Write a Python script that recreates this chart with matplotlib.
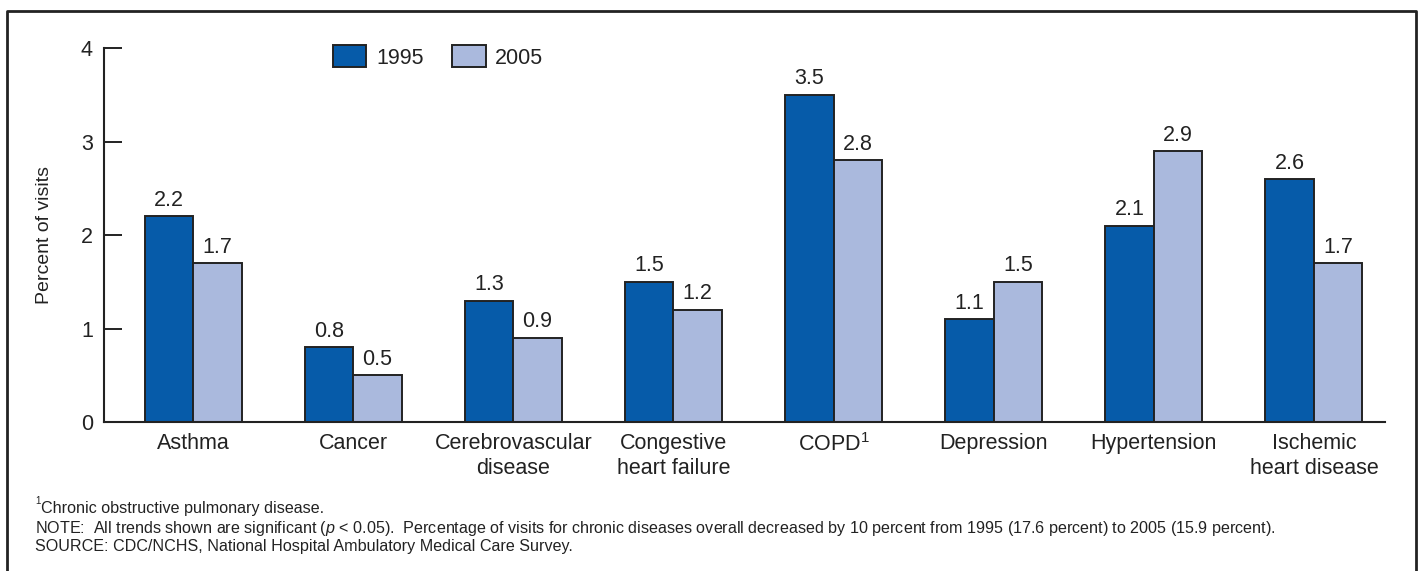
import matplotlib
matplotlib.use("Agg")
import matplotlib.pyplot as plt
from matplotlib.lines import Line2D
import numpy as np

plt.rcParams['font.family'] = ['Liberation Sans', 'DejaVu Sans']
plt.rcParams['mathtext.fontset'] = 'custom'
plt.rcParams['mathtext.rm'] = 'Liberation Sans'
plt.rcParams['mathtext.it'] = 'Liberation Sans:italic'

categories = ["Asthma", "Cancer", "Cerebrovascular\ndisease", "Congestive\nheart failure",
              r"$\mathregular{COPD^1}$", "Depression", "Hypertension", "Ischemic\nheart disease"]
values_1995 = [2.2, 0.8, 1.3, 1.5, 3.5, 1.1, 2.1, 2.6]
values_2005 = [1.7, 0.5, 0.9, 1.2, 2.8, 1.5, 2.9, 1.7]
series_labels = ["1995", "2005"]
yticks = [0, 1, 2, 3, 4]

c1995 = "#065BA9"
c2005 = "#AAB9DD"
edge = "#222222"
txt = "#222222"
fs = 15.5

W, H = 1422, 571
fig = plt.figure(figsize=(W / 100, H / 100), dpi=100)

# outer frame (bottom edge outside image)
frame = Line2D([7 / W, 7 / W, 1416 / W, 1416 / W], [-0.05, 1 - 11 / H, 1 - 11 / H, -0.05],
               transform=fig.transFigure, color=edge, lw=2.0)
fig.add_artist(frame)

ax = fig.add_axes([104 / W, 1 - 422 / H, (1385 - 104) / W, (422 - 48.3) / H])
x = np.arange(len(categories))
bw = 0.303
b1 = ax.bar(x - bw / 2, values_1995, bw, color=c1995, edgecolor=edge, linewidth=1.4, label=series_labels[0])
b2 = ax.bar(x + bw / 2, values_2005, bw, color=c2005, edgecolor=edge, linewidth=1.4, label=series_labels[1])

for bars, vals in ((b1, values_1995), (b2, values_2005)):
    for rect, v in zip(bars, vals):
        ax.annotate(f"{v:.1f}", (rect.get_x() + rect.get_width() / 2, v),
                    xytext=(0, 4), textcoords="offset points",
                    ha="center", va="bottom", fontsize=fs, color=txt)

ax.set_xlim(-0.556, 7.444)
ax.set_ylim(0, 4)
ax.set_yticks(yticks)
ax.set_yticklabels([str(t) for t in yticks])
ax.set_xticks(x)
ax.set_xticklabels(categories, fontsize=fs, color=txt, linespacing=1.25)
ax.tick_params(axis="x", length=0, pad=8)
ax.tick_params(axis="y", direction="in", length=13, width=1.4, labelsize=fs,
               pad=8, color=edge, labelcolor=txt)
for s in ("top", "right"):
    ax.spines[s].set_visible(False)
for s in ("left", "bottom"):
    ax.spines[s].set_linewidth(1.5)
    ax.spines[s].set_color(edge)
ax.set_ylabel("Percent of visits", fontsize=14, color=txt)
ax.yaxis.set_label_coords(-0.040, 0.5)

leg = ax.legend(loc="upper left", bbox_to_anchor=((333 - 104) / (1385 - 104), 1.008),
                ncol=2, frameon=False, fontsize=fs, handlelength=1.55, handleheight=1.2,
                columnspacing=1.33, handletextpad=0.45, borderaxespad=0, borderpad=0)
for t in leg.get_texts():
    t.set_color(txt)

# footnotes
nfs = 11.6
fig.text(35 / W, 1 - 501 / H, "1", fontsize=7, color=txt, ha="left", va="center")
fig.text(41 / W, 1 - 508 / H, "Chronic obstructive pulmonary disease.", fontsize=nfs,
         color=txt, ha="left", va="center")
fig.text(35 / W, 1 - 528 / H,
         r"NOTE:  All trends shown are significant ($\mathit{p}$ < 0.05).  Percentage of visits for chronic diseases overall decreased by 10 percent from 1995 (17.6 percent) to 2005 (15.9 percent).",
         fontsize=nfs, color=txt, ha="left", va="center")
fig.text(35 / W, 1 - 547 / H, "SOURCE: CDC/NCHS, National Hospital Ambulatory Medical Care Survey.",
         fontsize=nfs, color=txt, ha="left", va="center")

fig.savefig("out.png", dpi=100)
